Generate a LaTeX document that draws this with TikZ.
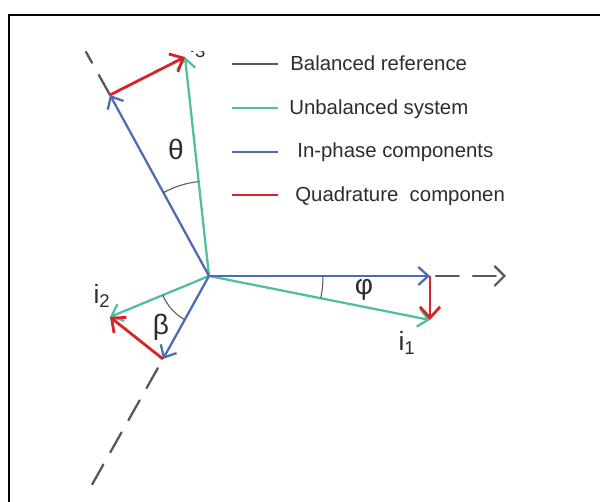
\documentclass[tikz,border=0pt]{standalone}
\usepackage{fontspec}
\setmainfont{Liberation Sans}
\usetikzlibrary{arrows.meta,calc}
\definecolor{balgrey}{RGB}{88,88,88}
\definecolor{unbteal}{RGB}{80,190,160}
\definecolor{inblue}{RGB}{78,108,178}
\definecolor{quadred}{RGB}{216,36,40}
\definecolor{txtgrey}{RGB}{45,45,45}

\begin{document}
\begin{tikzpicture}[
  x=0.02cm, y=-0.02cm,
  phasor/.style={line width=1.3pt, -{Straight Barb[length=2mm,width=3.6mm]}},
  quad/.style={quadred, line width=1.6pt, -{Straight Barb[length=2.2mm,width=4mm]}},
  refline/.style={balgrey, line width=1.3pt, line cap=round, dash pattern=on 13pt off 8pt},
  arcmark/.style={balgrey, line width=0.6pt},
  legline/.style={line width=1.5pt},
  legtext/.style={anchor=base west, inner sep=0pt, text=txtgrey, font=\fontsize{11.6}{14}\selectfont},
  cur/.style={inner sep=0pt, text=txtgrey, font=\fontsize{15}{17}\selectfont},
  ang/.style={inner sep=0pt, text=txtgrey, font=\fontsize{16}{18}\selectfont}
]
\useasboundingbox (0,0) rectangle (600,502);
\draw[line width=1.6pt] (9,15) rectangle (640,540);

\coordinate (O) at (209,276);
\coordinate (a1) at (430,276);
\coordinate (t1) at (430,320);
\coordinate (a2) at (163,359);
\coordinate (t2) at (110,317);
\coordinate (a3) at (110,95);
\coordinate (t3) at (185,57);
\coordinate (e1) at (506,276);
\coordinate (e2) at (89,490);
\coordinate (e3) at (86,52);

\begin{scope}
  \clip (0,52) rectangle (600,502);
  \draw[refline] (a3) -- (e3);
  \node[cur, anchor=base west] (i3) at (189,53) {i\textsubscript{3}};
\end{scope}
\draw[refline, -{Straight Barb[length=2mm,width=4mm]}] ($(a1)+(6,0)$) -- (e1);
\draw[refline] ($(a2)!6pt!(e2)$) -- (e2);

\draw[phasor, unbteal] (O) -- (t1);
\draw[phasor, unbteal] (O) -- (t2);
\draw[phasor, unbteal] (O) -- (t3);
\draw[phasor, inblue] (O) -- (a1);
\draw[phasor, inblue] (O) -- (a2);
\draw[phasor, inblue] (O) -- (a3);

\draw[quad] (a1) -- (t1);
\draw[quad] (a2) -- (t2);
\draw[quad] (a3) -- (t3);

\draw[arcmark] ($(O)+(-118.7:95)$) arc[start angle=-118.7, end angle=-96.3, radius=95];
\draw[arcmark] ($(O)+(0:114)$) arc[start angle=0, end angle=11.3, radius=114];
\draw[arcmark] ($(O)+(119.5:50)$) arc[start angle=119.5, end angle=157.7, radius=50];

\node[ang] (theta) at (176,149) {θ};
\node[ang] (phi) at (364,290) {φ};
\node[ang] (beta) at (161,327) {β};
\node[cur] (i1) at (407,343) {i\textsubscript{1}};
\node[cur] (i2) at (102,296) {i\textsubscript{2}};

\node[legtext] (leg1) at (290,71) {Balanced reference};
\node[legtext] (leg2) at (289,115) {Unbalanced system};
\node[legtext] (leg3) at (297,158) {In-phase components};
\node[legtext] (leg4) at (295,202) {Quadrature\ \ componen};
\draw[legline, balgrey] ($(leg1.base west)+(-58,-7)$) -- ++(46,0);
\draw[legline, unbteal] ($(leg2.base west)+(-57,-7)$) -- ++(46,0);
\draw[legline, inblue] ($(leg3.base west)+(-65,-6)$) -- ++(46,0);
\draw[legline, quadred] ($(leg4.base west)+(-63,-7)$) -- ++(46,0);
\end{tikzpicture}
\end{document}
